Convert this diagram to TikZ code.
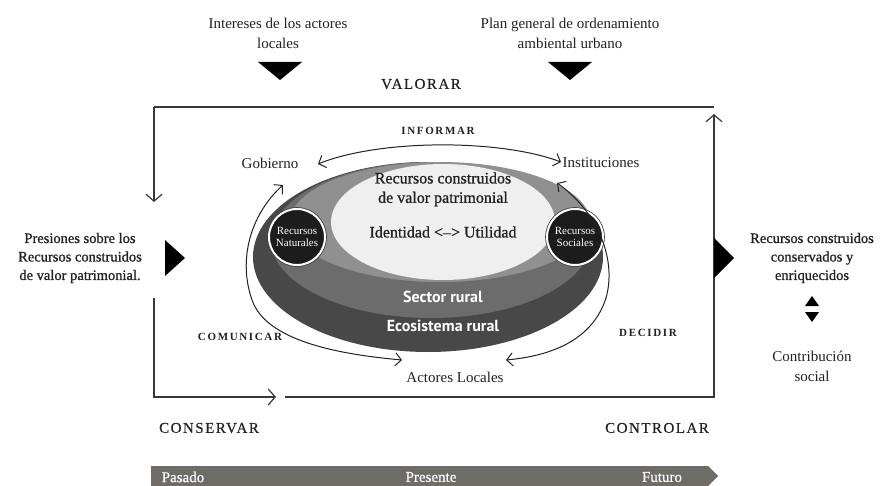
\documentclass[tikz,border=0pt]{standalone}
\usepackage{fontspec}
\setmainfont{Liberation Serif}
\newfontfamily\sansbold{PT Sans}
\usetikzlibrary{arrows.meta}
\definecolor{txt}{HTML}{222222}
\definecolor{framec}{HTML}{383838}
\definecolor{layA}{HTML}{484848}
\definecolor{layB}{HTML}{6C6C6C}
\definecolor{layC}{HTML}{909090}
\definecolor{layD}{HTML}{EFEFEF}
\definecolor{circc}{HTML}{1C1C1C}
\definecolor{barc}{HTML}{6F6B67}
\tikzset{
  lbl/.style={font=\fontsize{15}{20}\selectfont, text=txt, align=center, inner sep=0pt},
  lblb/.style={font=\fontsize{14.5}{18.5}\selectfont\addfontfeatures{FakeBold=0.9}, text=txt, align=center, inner sep=0pt},
  verb/.style={font=\fontsize{11}{13}\selectfont\bfseries\addfontfeatures{LetterSpace=15}, text=txt, inner sep=0pt},
  phase/.style={font=\fontsize{15}{18}\selectfont\addfontfeatures{LetterSpace=10,FakeBold=0.4}, text=txt, inner sep=0pt},
  inner/.style={font=\fontsize{16}{20}\selectfont\addfontfeatures{FakeBold=0.9}, text=txt, inner sep=0pt},
  sect/.style={font=\fontsize{16}{20}\selectfont\sansbold\bfseries, text=white, inner sep=0pt},
  circ/.style={circle, fill=circc, draw=white, line width=2pt, minimum size=56pt, inner sep=0pt,
     preaction={draw=black!75, line width=3.6pt},
     font=\fontsize{11}{12.5}\selectfont, text=white, align=center},
  frame/.style={draw=framec, line width=1.5pt},
  fhead/.style={-{Straight Barb[length=7pt,width=16pt,line width=1.2pt]}},
  arc/.style={draw=txt, line width=1pt},
  ahead/.style={{Straight Barb[length=6pt,width=13pt,line width=1pt]}-{Straight Barb[length=6pt,width=13pt,line width=1pt]}},
  barlbl/.style={font=\fontsize{15}{18}\selectfont\addfontfeatures{FakeBold=0.5}, text=white, inner sep=0pt},
}
\begin{document}
\begin{tikzpicture}[x=1pt,y=-1pt]
\useasboundingbox (0,0) rectangle (882,486);
\fill[white] (0,0) rectangle (882,486);

% top inputs
\node[lbl] (intereses) at (278,33) {Intereses de los actores\\locales};
\node[lbl] (plan) at (570,33) {Plan general de ordenamiento\\ambiental urbano};
\fill[black] (258,62) -- (302,62) -- (280,80) -- cycle;
\fill[black] (548,62) -- (592,62) -- (570,80) -- cycle;
\node[phase] (valorar) at (421,84) {VALORAR};

% frame
\coordinate (tl) at (154,107);
\coordinate (tr) at (714,107);
\coordinate (la) at (154,202);
\coordinate (lb) at (154,298);
\coordinate (bl) at (154,397);
\coordinate (ba) at (276,397);
\coordinate (bb) at (285,397);
\coordinate (br) at (714,397);
\coordinate (rt) at (714,114);
\draw[frame] (tl) -- (tr);
\draw[frame, fhead] (tl) -- (la);
\draw[frame, fhead] (lb) -- (bl) -- (ba);
\draw[frame, fhead] (bb) -- (br) -- (rt);

% side inputs / outputs
\node[lblb] (presiones) at (80,258) {Presiones sobre los\\Recursos construidos\\de valor patrimonial.};
\fill[black] (165,240) -- (185,258) -- (165,276) -- cycle;
\fill[black] (714,238) -- (734,258) -- (714,278) -- cycle;
\node[lblb] (salida) at (812,258) {Recursos construidos\\conservados y\\enriquecidos};
\fill[black] (805,306) -- (819,306) -- (812,296) -- cycle;
\fill[black] (805,312) -- (819,312) -- (812,322) -- cycle;
\node[lbl] (contrib) at (812,366) {Contribución\\social};

% ellipse layers
\fill[layA] (428,257) ellipse [x radius=175pt, y radius=95pt];
\fill[layB] (431,240) ellipse [x radius=160pt, y radius=78pt];
\fill[layC] (440,222) ellipse [x radius=150pt, y radius=60pt];
\fill[layD] (443,222) ellipse [x radius=112pt, y radius=58pt];

\node[inner] (rc1) at (443,178) {Recursos construidos};
\node[inner] (rc2) at (443,199) {de valor patrimonial};
\node[inner] (iu) at (443,232) {Identidad <–> Utilidad};
\node[sect] (sector) at (443,297) {Sector rural};
\node[sect] (eco) at (443,326) {Ecosistema rural};

\node[circ] (nat) at (297,237) {Recursos\\Naturales};
\node[circ] (soc) at (575,237) {Recursos\\Sociales};

% actors
\node[lbl] (gob) at (270,163) {Gobierno};
\node[lbl] (inst) at (601,163) {Instituciones};
\node[lbl] (act) at (455,377) {Actores Locales};
\node[verb] (informar) at (438,131) {INFORMAR};
\node[verb] (comunicar) at (240,337) {COMUNICAR};
\node[verb] (decidir) at (648,333) {DECIDIR};

\coordinate (i1) at (318,164);
\coordinate (i2) at (561,162);
\draw[arc, ahead] (i1) .. controls (380,139) and (500,139) .. (i2);
\coordinate (g1) at (283,185);
\coordinate (g2) at (252,300);
\coordinate (a1) at (402,360);
\draw[arc, ahead] (g1) .. controls (250,215) and (238,260) .. (g2) .. controls (266,340) and (335,354) .. (a1);
\coordinate (s1) at (557,183);
\coordinate (s2) at (606,298);
\coordinate (a2) at (506,360);
\draw[arc, ahead] (s1) .. controls (593,208) and (618,255) .. (s2) .. controls (594,335) and (560,355) .. (a2);

% bottom phases
\node[phase] (conservar) at (209,428) {CONSERVAR};
\node[phase] (controlar) at (657,428) {CONTROLAR};

% time bar
\fill[barc] (151,466) -- (708,466) -- (718,476) -- (708,486) -- (151,486) -- cycle;
\node[barlbl] (pasado) at (183,477) {Pasado};
\node[barlbl] (presente) at (431,477) {Presente};
\node[barlbl] (futuro) at (662,477) {Futuro};
\end{tikzpicture}
\end{document}
